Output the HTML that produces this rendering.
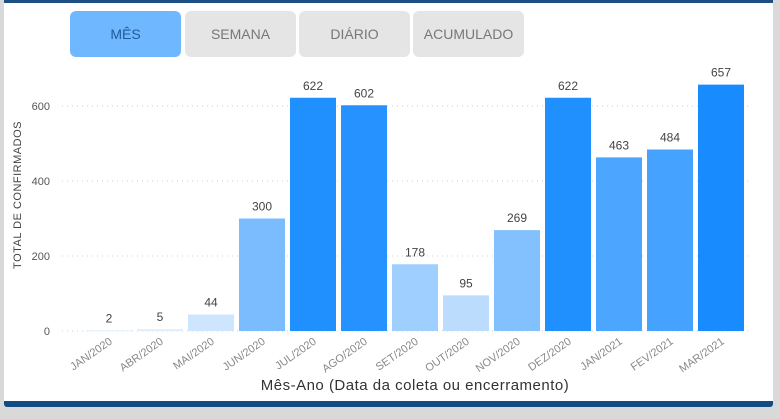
<!DOCTYPE html>
<html><head><meta charset="utf-8"><style>
body{margin:0;width:780px;height:419px;background:#d9d9d9;font-family:"Liberation Sans",sans-serif;overflow:hidden;position:relative}
.card{position:absolute;left:4px;top:0;width:769px;height:402px;background:#fff;border-top:3px solid #1d4f85;box-sizing:border-box}
.bot{position:absolute;left:4px;top:401px;width:769px;height:6px;background:#134b85;border-radius:0 0 3px 3px}
.btn{position:absolute;top:11px;height:46px;width:111px;border-radius:6px;background:#e5e5e5;color:#777;font-size:14px;display:flex;align-items:center;justify-content:center}
</style></head><body>
<div class="card"></div>
<div class="bot"></div>
<div class="btn" style="left:70px;background:#6fb8ff;color:#1f5a9a">MÊS</div>
<div class="btn" style="left:185px">SEMANA</div>
<div class="btn" style="left:299px">DIÁRIO</div>
<div class="btn" style="left:413px">ACUMULADO</div>
<svg id="c" width="780" height="419" style="position:absolute;left:0;top:0"></svg>
<script>
const categories=["JAN/2020","ABR/2020","MAI/2020","JUN/2020","JUL/2020","AGO/2020","SET/2020","OUT/2020","NOV/2020","DEZ/2020","JAN/2021","FEV/2021","MAR/2021"];
const values=[2,5,44,300,622,602,178,95,269,622,463,484,657];
const yTicks=[0,200,400,600];
const svg=document.getElementById('c');const NS='http://www.w3.org/2000/svg';
const y0=331,k=225/600,x0=86,step=51,bw=46;
const y=v=>y0-v*k, x=i=>x0+i*step;
function mk(t,a,txt){const e=document.createElementNS(NS,t);for(const n in a)e.setAttribute(n,a[n]);if(txt!==undefined)e.textContent=txt;svg.appendChild(e);return e;}
const vmax=Math.max(...values);
function col(v){const t=Math.min(1,v/vmax);const a=[226,240,253],b=[24,139,255];return 'rgb('+a.map((c,i)=>Math.round(c+(b[i]-c)*Math.pow(t,0.85))).join(',')+')';}
yTicks.forEach(t=>{
 const g=mk('line',{x1:62,x2:752,y1:y(t),y2:y(t),stroke:'#ccc','stroke-dasharray':'1 4'});
 
 const l=mk('text',{x:50,y:y(t)+4,'text-anchor':'end','font-size':11,fill:'#555'},t);
 
});
values.forEach((v,i)=>{
 const r=mk('rect',{x:x(i),y:y(v),width:bw,height:Math.max(1,v*k),fill:col(v)});
 
 
 const t=mk('text',{x:x(i)+bw/2,y:y(v)-8,'text-anchor':'middle','font-size':12,fill:'#444'},v);
 
 
 const cx=x(i)+bw/2+4,cy=y0+12;
 const xl=mk('text',{x:cx,y:cy,'text-anchor':'end','font-size':11,fill:'#888',transform:'rotate(-35 '+cx+' '+cy+')'},categories[i]);
 
 
});
const yt=mk('text',{x:21,y:195,'text-anchor':'middle','font-size':11,fill:'#444','letter-spacing':'0.5',transform:'rotate(-90 21 195)'},'TOTAL DE CONFIRMADOS');

const xt=mk('text',{x:415,y:390,'text-anchor':'middle','font-size':15,fill:'#333','letter-spacing':'0.5'},'Mês-Ano (Data da coleta ou encerramento)');

</script>
</body></html>
